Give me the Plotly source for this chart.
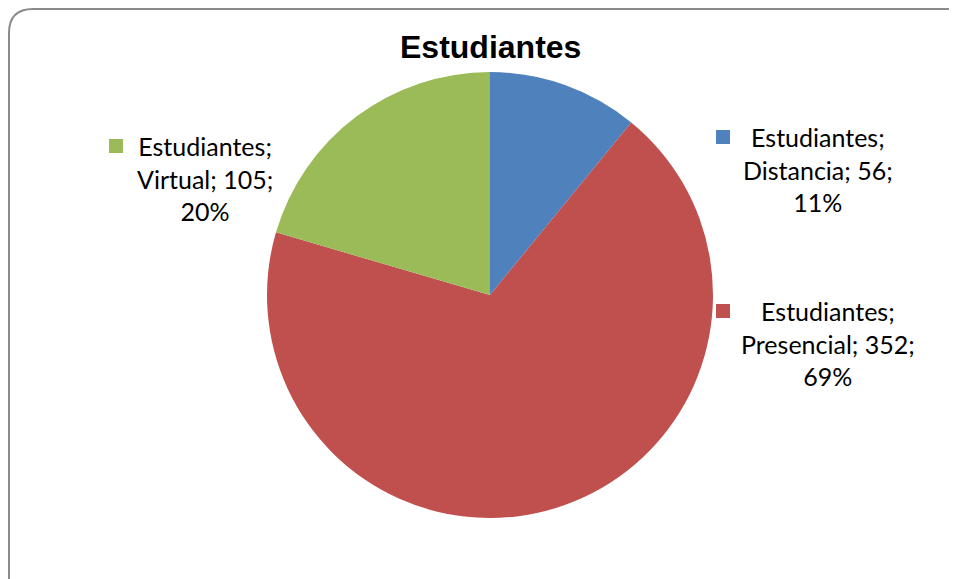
import plotly.graph_objects as go

# datos
serie = "Estudiantes"
categorias = ["Distancia", "Presencial", "Virtual"]
valores = [56, 352, 105]
porcentajes = ["11%", "69%", "20%"]
colores = ["#4F81BD", "#C0504D", "#9BBB59"]

W, H = 957, 579
OFF = 8  # margen del body de la pagina

def px_x(x):
  return (x - OFF) / W

def px_y(y):
  return 1 - (y - OFF) / H

fig = go.Figure()
fig.add_trace(go.Pie(labels=categorias, values=valores, sort=False, direction="clockwise",
                     rotation=0, marker=dict(colors=colores, line=dict(color="white", width=0)),
                     textinfo="none", hoverinfo="label+value+percent", showlegend=False,
                     domain=dict(x=[px_x(267), px_x(713)], y=[px_y(518), px_y(72)])))

# posiciones de las etiquetas (centro del texto, y de la primera linea) y del cuadrado
pos_etiq = {"Distancia": (818, 137, 723, 137),
            "Presencial": (828, 311, 723, 311),
            "Virtual": (205, 146, 116, 146)}

formas = []
# marco redondeado
r = 24
x0, y0, x1, y1 = 9, 9, 970, 605
camino = (f"M {px_x(x0+r)},{px_y(y0)} L {px_x(x1-r)},{px_y(y0)} "
          f"Q {px_x(x1)},{px_y(y0)} {px_x(x1)},{px_y(y0+r)} L {px_x(x1)},{px_y(y1)} "
          f"L {px_x(x0)},{px_y(y1)} L {px_x(x0)},{px_y(y0+r)} Q {px_x(x0)},{px_y(y0)} {px_x(x0+r)},{px_y(y0)} Z")
formas.append(dict(type="path", path=camino, xref="paper", yref="paper",
                   line=dict(color="#8a8a8a", width=2), fillcolor="white", layer="below"))

anotaciones = [dict(text="<b>" + serie + "</b>", x=px_x(490), y=px_y(47), xref="paper", yref="paper",
                    showarrow=False, font=dict(family="Liberation Sans", size=32, color="black"),
                    xanchor="center", yanchor="middle")]

for cat, val, pct, col in zip(categorias, valores, porcentajes, colores):
  cx, ty, sx, sy = pos_etiq[cat]
  texto = f"{serie};<br>{cat}; {val};<br>{pct}"
  anotaciones.append(dict(text=texto, x=px_x(cx), y=px_y(ty - 17), xref="paper", yref="paper",
                          showarrow=False, align="center", xanchor="center", yanchor="top",
                          font=dict(family="Lato", size=25, color="black")))
  formas.append(dict(type="rect", xref="paper", yref="paper",
                     x0=px_x(sx - 7), x1=px_x(sx + 7), y0=px_y(sy + 7), y1=px_y(sy - 7),
                     fillcolor=col, line=dict(width=0)))

fig.update_layout(width=W, height=H, margin=dict(l=0, r=0, t=0, b=0),
                  paper_bgcolor="white", plot_bgcolor="white",
                  shapes=formas, annotations=anotaciones)

fig.write_html("out.html")
